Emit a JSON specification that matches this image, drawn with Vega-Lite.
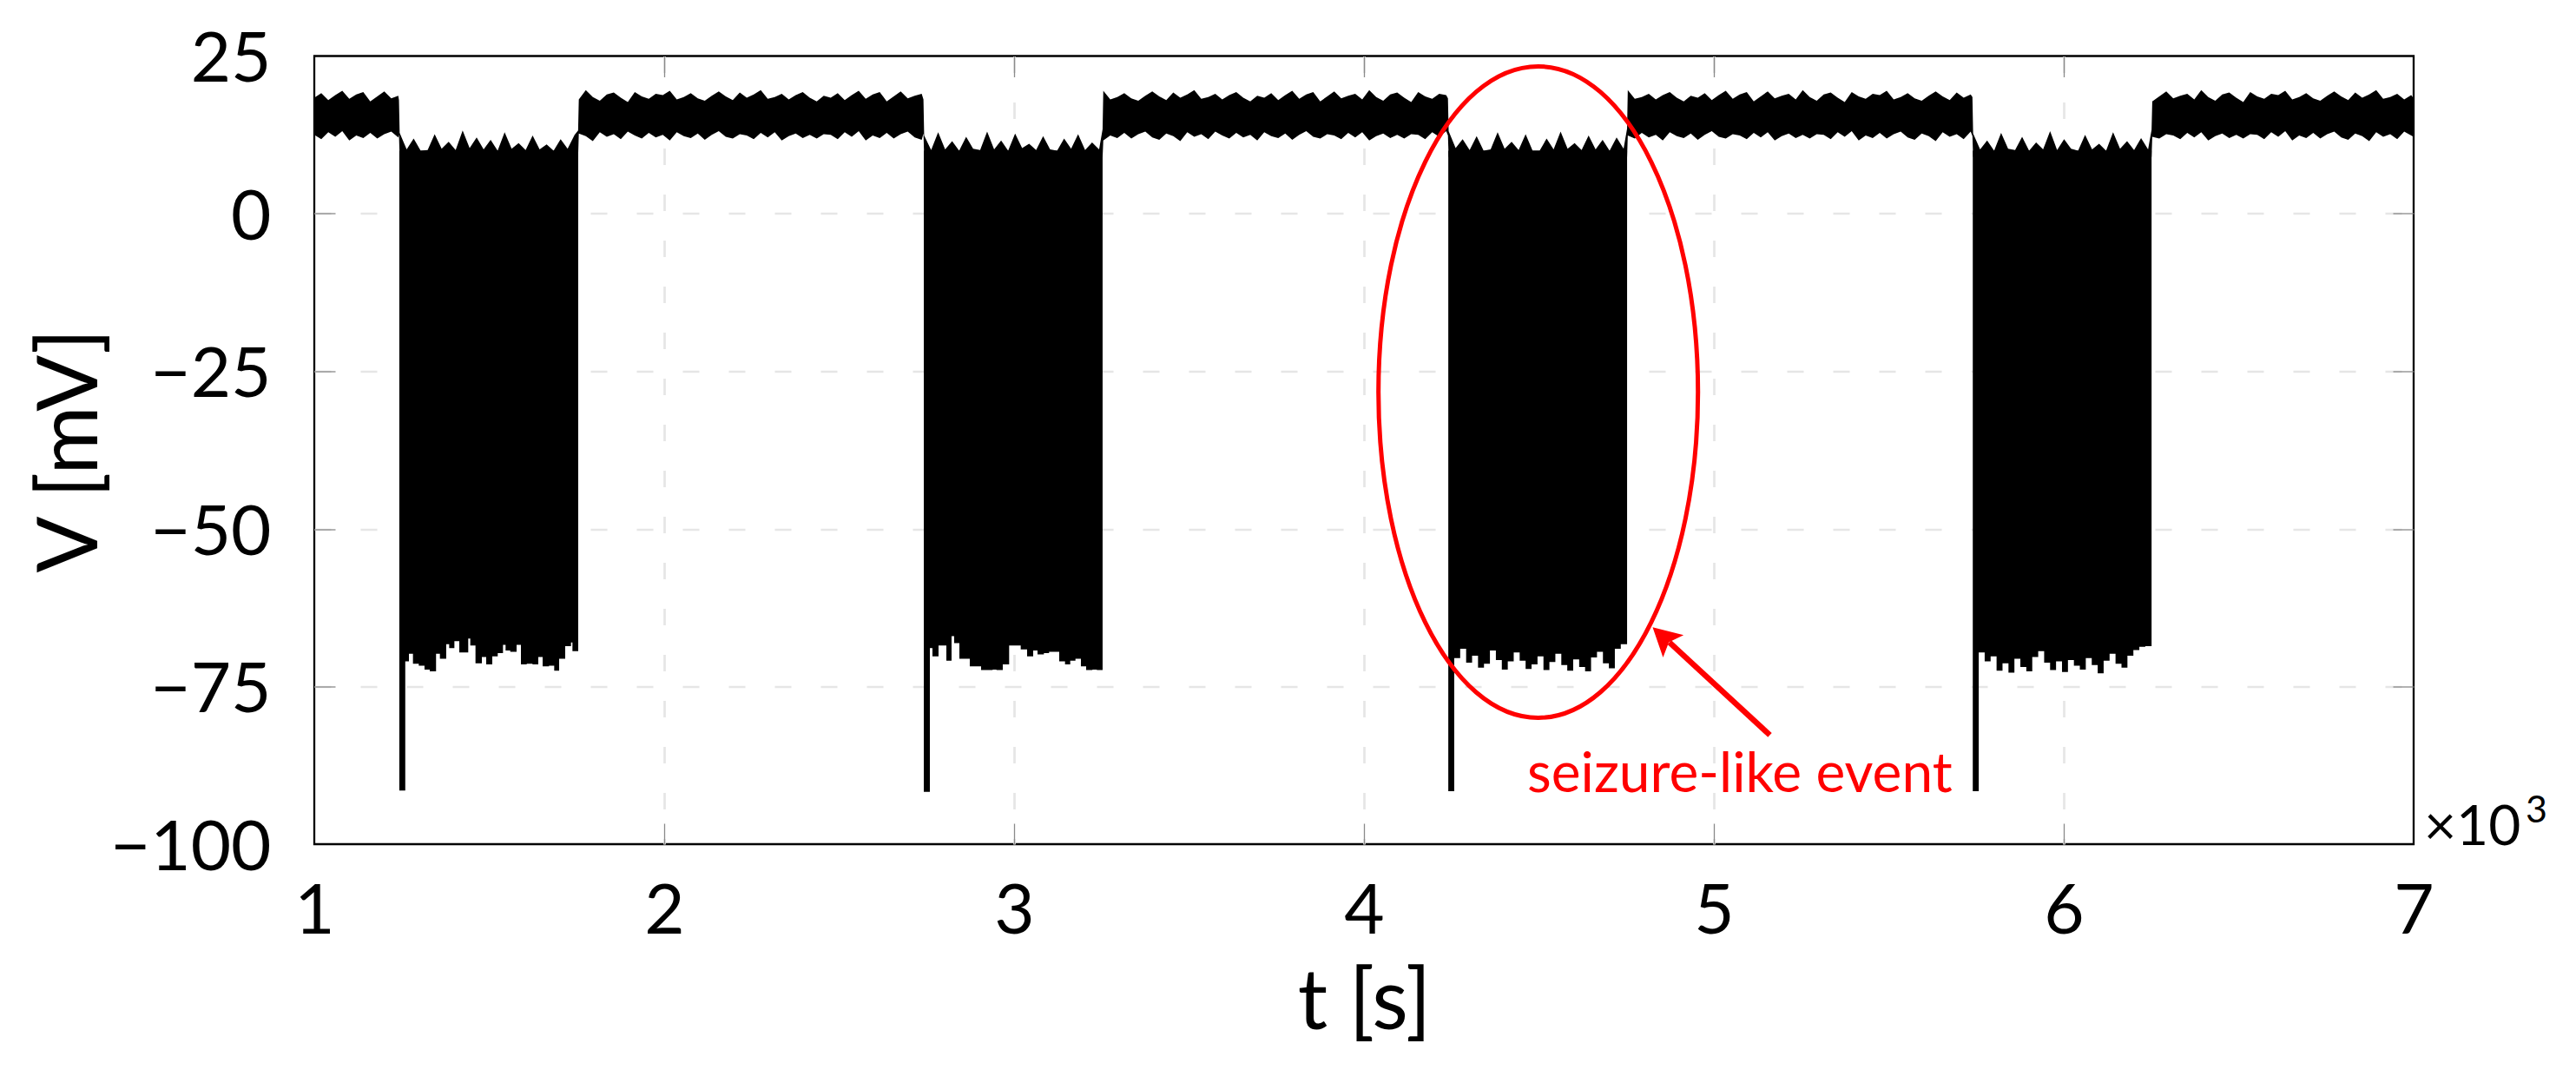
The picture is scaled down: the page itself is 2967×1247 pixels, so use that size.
{
"$schema":"https://vega.github.io/schema/vega-lite/v6.json",
"width":2418,"height":907.5,
"autosize":{"type":"none"},
"padding":{"left":362,"top":64.5,"right":187,"bottom":275},
"background":"white",
"config":{"view":{"stroke":"black","strokeWidth":2.3},"font":"Lato"},
"datasets":{
"up":[
{"t":1000,"lo":12.5,"hi":18.4},{"t":1020,"lo":11.8,"hi":19.1},{"t":1040,"lo":12.9,"hi":18.0},{"t":1060,"lo":12.2,"hi":18.8},{"t":1080,"lo":13.1,"hi":19.5},{"t":1100,"lo":11.6,"hi":18.2},{"t":1120,"lo":12.4,"hi":18.9},{"t":1140,"lo":12.0,"hi":19.3},{"t":1160,"lo":12.8,"hi":17.8},{"t":1180,"lo":11.9,"hi":18.6},{"t":1200,"lo":12.6,"hi":19.4},{"t":1220,"lo":13.0,"hi":18.3},{"t":1240,"lo":12.1,"hi":18.7},{"t":1242,"lo":12.5,"hi":18.0},
{"t":1244,"lo":9,"hi":12.8},{"t":1264,"lo":9,"hi":10.2},{"t":1284,"lo":9,"hi":11.9},{"t":1304,"lo":9,"hi":10.0},{"t":1324,"lo":9,"hi":10.1},{"t":1344,"lo":9,"hi":12.6},{"t":1364,"lo":9,"hi":10.3},{"t":1384,"lo":9,"hi":11.4},{"t":1404,"lo":9,"hi":10.1},{"t":1424,"lo":9,"hi":13.2},{"t":1444,"lo":9,"hi":10.4},{"t":1464,"lo":9,"hi":12.1},{"t":1484,"lo":9,"hi":10.2},{"t":1504,"lo":9,"hi":11.7},{"t":1524,"lo":9,"hi":10.0},{"t":1544,"lo":9,"hi":12.9},{"t":1564,"lo":9,"hi":10.3},{"t":1584,"lo":9,"hi":11.2},{"t":1604,"lo":9,"hi":10.1},{"t":1624,"lo":9,"hi":12.4},{"t":1644,"lo":9,"hi":10.2},{"t":1664,"lo":9,"hi":11.0},{"t":1684,"lo":9,"hi":10.0},{"t":1704,"lo":9,"hi":11.8},{"t":1724,"lo":9,"hi":10.3},{"t":1744,"lo":9,"hi":12.5},{"t":1754,"lo":9,"hi":13.2},
{"t":1756,"lo":12.7,"hi":18.1},{"t":1776,"lo":12.3,"hi":19.6},{"t":1796,"lo":11.5,"hi":18.5},{"t":1816,"lo":12.9,"hi":17.9},{"t":1836,"lo":12.2,"hi":18.9},{"t":1856,"lo":12.6,"hi":19.2},{"t":1876,"lo":11.8,"hi":18.4},{"t":1896,"lo":13.0,"hi":17.7},{"t":1916,"lo":12.4,"hi":19.3},{"t":1936,"lo":11.9,"hi":18.6},{"t":1956,"lo":12.8,"hi":18.2},{"t":1976,"lo":12.1,"hi":19.0},{"t":1996,"lo":12.5,"hi":18.8},{"t":2016,"lo":11.6,"hi":19.5},{"t":2036,"lo":12.9,"hi":18.1},{"t":2056,"lo":12.3,"hi":18.5},{"t":2076,"lo":12.0,"hi":19.1},{"t":2096,"lo":12.7,"hi":18.3},{"t":2116,"lo":11.7,"hi":17.9},{"t":2136,"lo":12.5,"hi":18.7},{"t":2156,"lo":13.1,"hi":19.4},{"t":2176,"lo":12.2,"hi":18.6},{"t":2196,"lo":11.9,"hi":18.0},{"t":2216,"lo":12.6,"hi":19.2},{"t":2236,"lo":12.4,"hi":18.4},{"t":2256,"lo":11.8,"hi":18.9},{"t":2276,"lo":12.8,"hi":19.6},{"t":2296,"lo":12.1,"hi":18.2},{"t":2316,"lo":12.9,"hi":18.5},{"t":2336,"lo":11.6,"hi":19.0},{"t":2356,"lo":12.3,"hi":18.1},{"t":2376,"lo":12.7,"hi":18.8},{"t":2396,"lo":12.0,"hi":19.3},{"t":2416,"lo":12.5,"hi":18.4},{"t":2436,"lo":11.9,"hi":17.8},{"t":2456,"lo":12.6,"hi":18.7},{"t":2476,"lo":12.5,"hi":18.4},{"t":2496,"lo":11.8,"hi":19.1},{"t":2516,"lo":12.9,"hi":18.0},{"t":2536,"lo":12.2,"hi":18.8},{"t":2556,"lo":13.1,"hi":19.5},{"t":2576,"lo":11.6,"hi":18.2},{"t":2596,"lo":12.4,"hi":18.9},{"t":2616,"lo":12.0,"hi":19.3},{"t":2636,"lo":12.8,"hi":17.8},{"t":2656,"lo":11.9,"hi":18.6},{"t":2676,"lo":12.6,"hi":19.4},{"t":2696,"lo":13.0,"hi":18.3},{"t":2716,"lo":12.1,"hi":18.7},{"t":2736,"lo":11.7,"hi":19.0},{"t":2741,"lo":12.7,"hi":18.1},
{"t":2743,"lo":9,"hi":12.4},{"t":2763,"lo":9,"hi":10.1},{"t":2783,"lo":9,"hi":12.9},{"t":2803,"lo":9,"hi":10.2},{"t":2823,"lo":9,"hi":11.5},{"t":2843,"lo":9,"hi":10.0},{"t":2863,"lo":9,"hi":12.2},{"t":2883,"lo":9,"hi":10.3},{"t":2903,"lo":9,"hi":10.1},{"t":2923,"lo":9,"hi":13.0},{"t":2943,"lo":9,"hi":10.2},{"t":2963,"lo":9,"hi":11.6},{"t":2983,"lo":9,"hi":10.0},{"t":3003,"lo":9,"hi":12.7},{"t":3023,"lo":9,"hi":10.4},{"t":3043,"lo":9,"hi":11.1},{"t":3063,"lo":9,"hi":10.1},{"t":3083,"lo":9,"hi":12.3},{"t":3103,"lo":9,"hi":10.2},{"t":3123,"lo":9,"hi":10.0},{"t":3143,"lo":9,"hi":11.9},{"t":3163,"lo":9,"hi":10.3},{"t":3183,"lo":9,"hi":12.6},{"t":3203,"lo":9,"hi":10.1},{"t":3223,"lo":9,"hi":11.3},{"t":3243,"lo":9,"hi":10.2},{"t":3253,"lo":9,"hi":13.4},
{"t":3255,"lo":11.6,"hi":19.5},{"t":3275,"lo":12.4,"hi":18.1},{"t":3295,"lo":12.0,"hi":18.5},{"t":3315,"lo":12.8,"hi":19.1},{"t":3335,"lo":11.9,"hi":18.3},{"t":3355,"lo":12.6,"hi":17.9},{"t":3375,"lo":13.0,"hi":18.7},{"t":3395,"lo":12.1,"hi":19.4},{"t":3415,"lo":11.7,"hi":18.6},{"t":3435,"lo":12.7,"hi":18.0},{"t":3455,"lo":12.3,"hi":19.2},{"t":3475,"lo":11.5,"hi":18.4},{"t":3495,"lo":12.9,"hi":18.9},{"t":3515,"lo":12.2,"hi":19.6},{"t":3535,"lo":12.6,"hi":18.2},{"t":3555,"lo":11.8,"hi":18.5},{"t":3575,"lo":13.0,"hi":19.0},{"t":3595,"lo":12.4,"hi":18.1},{"t":3615,"lo":11.9,"hi":18.8},{"t":3635,"lo":12.8,"hi":19.3},{"t":3655,"lo":12.1,"hi":18.4},{"t":3675,"lo":12.5,"hi":17.8},{"t":3695,"lo":11.6,"hi":18.7},{"t":3715,"lo":12.9,"hi":18.4},{"t":3735,"lo":12.3,"hi":19.1},{"t":3755,"lo":12.0,"hi":18.0},{"t":3775,"lo":12.7,"hi":18.8},{"t":3795,"lo":11.7,"hi":19.5},{"t":3815,"lo":12.5,"hi":18.2},{"t":3835,"lo":13.1,"hi":18.9},{"t":3855,"lo":12.2,"hi":19.3},{"t":3875,"lo":11.9,"hi":17.8},{"t":3895,"lo":12.6,"hi":18.6},{"t":3915,"lo":12.4,"hi":19.4},{"t":3935,"lo":11.8,"hi":18.3},{"t":3955,"lo":12.8,"hi":18.7},{"t":3975,"lo":12.1,"hi":19.0},{"t":3995,"lo":12.9,"hi":18.1},{"t":4015,"lo":11.6,"hi":19.6},{"t":4035,"lo":12.3,"hi":18.5},{"t":4055,"lo":12.7,"hi":17.9},{"t":4075,"lo":12.0,"hi":18.9},{"t":4095,"lo":12.5,"hi":19.2},{"t":4115,"lo":11.9,"hi":18.4},{"t":4135,"lo":12.6,"hi":17.7},{"t":4155,"lo":12.5,"hi":19.3},{"t":4175,"lo":11.8,"hi":18.6},{"t":4195,"lo":12.9,"hi":18.2},{"t":4215,"lo":12.2,"hi":19.0},{"t":4235,"lo":13.1,"hi":18.8},{"t":4240,"lo":12.4,"hi":18.3},
{"t":4242,"lo":9,"hi":13.1},{"t":4262,"lo":9,"hi":10.4},{"t":4282,"lo":9,"hi":11.8},{"t":4302,"lo":9,"hi":10.1},{"t":4322,"lo":9,"hi":12.3},{"t":4342,"lo":9,"hi":10.0},{"t":4362,"lo":9,"hi":10.2},{"t":4382,"lo":9,"hi":12.9},{"t":4402,"lo":9,"hi":10.3},{"t":4422,"lo":9,"hi":11.4},{"t":4442,"lo":9,"hi":10.1},{"t":4462,"lo":9,"hi":12.6},{"t":4482,"lo":9,"hi":10.0},{"t":4502,"lo":9,"hi":10.0},{"t":4522,"lo":9,"hi":11.9},{"t":4542,"lo":9,"hi":10.2},{"t":4562,"lo":9,"hi":13.0},{"t":4582,"lo":9,"hi":10.3},{"t":4602,"lo":9,"hi":11.2},{"t":4622,"lo":9,"hi":10.1},{"t":4642,"lo":9,"hi":12.4},{"t":4662,"lo":9,"hi":10.2},{"t":4682,"lo":9,"hi":11.7},{"t":4702,"lo":9,"hi":10.0},{"t":4722,"lo":9,"hi":12.1},{"t":4742,"lo":9,"hi":10.3},{"t":4752,"lo":9,"hi":13.5},
{"t":4754,"lo":12.4,"hi":19.6},{"t":4774,"lo":11.9,"hi":18.2},{"t":4794,"lo":12.8,"hi":18.5},{"t":4814,"lo":12.1,"hi":19.0},{"t":4834,"lo":12.5,"hi":18.1},{"t":4854,"lo":11.6,"hi":18.8},{"t":4874,"lo":12.9,"hi":19.3},{"t":4894,"lo":12.3,"hi":18.4},{"t":4914,"lo":12.0,"hi":17.8},{"t":4934,"lo":12.7,"hi":18.7},{"t":4954,"lo":11.7,"hi":18.4},{"t":4974,"lo":12.5,"hi":19.1},{"t":4994,"lo":13.1,"hi":18.0},{"t":5014,"lo":12.2,"hi":18.8},{"t":5034,"lo":11.9,"hi":19.5},{"t":5054,"lo":12.6,"hi":18.2},{"t":5074,"lo":12.4,"hi":18.9},{"t":5094,"lo":11.8,"hi":19.3},{"t":5114,"lo":12.8,"hi":17.8},{"t":5134,"lo":12.1,"hi":18.6},{"t":5154,"lo":12.9,"hi":19.4},{"t":5174,"lo":11.6,"hi":18.3},{"t":5194,"lo":12.3,"hi":18.7},{"t":5214,"lo":12.7,"hi":19.0},{"t":5234,"lo":12.0,"hi":18.1},{"t":5254,"lo":12.5,"hi":19.6},{"t":5274,"lo":11.9,"hi":18.5},{"t":5294,"lo":12.6,"hi":17.9},{"t":5314,"lo":12.5,"hi":18.9},{"t":5334,"lo":11.8,"hi":19.2},{"t":5354,"lo":12.9,"hi":18.4},{"t":5374,"lo":12.2,"hi":17.7},{"t":5394,"lo":13.1,"hi":19.3},{"t":5414,"lo":11.6,"hi":18.6},{"t":5434,"lo":12.4,"hi":18.2},{"t":5454,"lo":12.0,"hi":19.0},{"t":5474,"lo":12.8,"hi":18.8},{"t":5494,"lo":11.9,"hi":19.5},{"t":5514,"lo":12.6,"hi":18.1},{"t":5534,"lo":13.0,"hi":18.5},{"t":5554,"lo":12.1,"hi":19.1},{"t":5574,"lo":11.7,"hi":18.3},{"t":5594,"lo":12.7,"hi":17.9},{"t":5614,"lo":12.3,"hi":18.7},{"t":5634,"lo":11.5,"hi":19.4},{"t":5654,"lo":12.9,"hi":18.6},{"t":5674,"lo":12.2,"hi":18.0},{"t":5694,"lo":12.6,"hi":19.2},{"t":5714,"lo":11.8,"hi":18.4},{"t":5734,"lo":13.0,"hi":18.9},{"t":5739,"lo":12.3,"hi":18.5},
{"t":5741,"lo":9,"hi":12.7},{"t":5761,"lo":9,"hi":10.2},{"t":5781,"lo":9,"hi":11.6},{"t":5801,"lo":9,"hi":10.0},{"t":5821,"lo":9,"hi":12.8},{"t":5841,"lo":9,"hi":10.3},{"t":5861,"lo":9,"hi":10.1},{"t":5881,"lo":9,"hi":12.2},{"t":5901,"lo":9,"hi":10.0},{"t":5921,"lo":9,"hi":11.3},{"t":5941,"lo":9,"hi":10.2},{"t":5961,"lo":9,"hi":13.1},{"t":5981,"lo":9,"hi":10.1},{"t":6001,"lo":9,"hi":11.8},{"t":6021,"lo":9,"hi":10.3},{"t":6041,"lo":9,"hi":10.0},{"t":6061,"lo":9,"hi":12.5},{"t":6081,"lo":9,"hi":10.2},{"t":6101,"lo":9,"hi":11.1},{"t":6121,"lo":9,"hi":10.0},{"t":6141,"lo":9,"hi":12.9},{"t":6161,"lo":9,"hi":10.3},{"t":6181,"lo":9,"hi":11.5},{"t":6201,"lo":9,"hi":10.1},{"t":6221,"lo":9,"hi":12.0},{"t":6241,"lo":9,"hi":10.2},{"t":6251,"lo":9,"hi":13.3},
{"t":6253,"lo":12.2,"hi":17.8},{"t":6273,"lo":11.9,"hi":18.6},{"t":6293,"lo":12.6,"hi":19.4},{"t":6313,"lo":12.4,"hi":18.3},{"t":6333,"lo":11.8,"hi":18.7},{"t":6353,"lo":12.8,"hi":19.0},{"t":6373,"lo":12.1,"hi":18.1},{"t":6393,"lo":12.9,"hi":19.6},{"t":6413,"lo":11.6,"hi":18.5},{"t":6433,"lo":12.3,"hi":17.9},{"t":6453,"lo":12.7,"hi":18.9},{"t":6473,"lo":12.0,"hi":19.2},{"t":6493,"lo":12.5,"hi":18.4},{"t":6513,"lo":11.9,"hi":17.7},{"t":6533,"lo":12.6,"hi":19.3},{"t":6553,"lo":12.5,"hi":18.6},{"t":6573,"lo":11.8,"hi":18.2},{"t":6593,"lo":12.9,"hi":19.0},{"t":6613,"lo":12.2,"hi":18.8},{"t":6633,"lo":13.1,"hi":19.5},{"t":6653,"lo":11.6,"hi":18.1},{"t":6673,"lo":12.4,"hi":18.5},{"t":6693,"lo":12.0,"hi":19.1},{"t":6713,"lo":12.8,"hi":18.3},{"t":6733,"lo":11.9,"hi":17.9},{"t":6753,"lo":12.6,"hi":18.7},{"t":6773,"lo":13.0,"hi":19.4},{"t":6793,"lo":12.1,"hi":18.6},{"t":6813,"lo":11.7,"hi":18.0},{"t":6833,"lo":12.7,"hi":19.2},{"t":6853,"lo":12.3,"hi":18.4},{"t":6873,"lo":11.5,"hi":18.9},{"t":6893,"lo":12.9,"hi":19.6},{"t":6913,"lo":12.2,"hi":18.2},{"t":6933,"lo":12.6,"hi":18.5},{"t":6953,"lo":11.8,"hi":19.0},{"t":6973,"lo":13.0,"hi":18.1},{"t":6993,"lo":12.4,"hi":18.8},{"t":7000,"lo":12.2,"hi":18.3}
],
"ev":[
{"e":1,"t":1243,"lo":-91.5},{"e":1,"t":1260,"lo":-71.0},{"e":1,"t":1270.5,"lo":-69.8},{"e":1,"t":1282,"lo":-71.4},{"e":1,"t":1298.6,"lo":-71.7},{"e":1,"t":1315,"lo":-72.3},{"e":1,"t":1330,"lo":-72.6},{"e":1,"t":1348,"lo":-69.8},{"e":1,"t":1359,"lo":-70.6},{"e":1,"t":1377,"lo":-68.3},{"e":1,"t":1385.5,"lo":-68.9},{"e":1,"t":1400.4,"lo":-67.8},{"e":1,"t":1414.4,"lo":-69.6},{"e":1,"t":1440,"lo":-67.4},{"e":1,"t":1445.8,"lo":-68.5},{"e":1,"t":1460.7,"lo":-71.3},{"e":1,"t":1478.9,"lo":-70.3},{"e":1,"t":1491.3,"lo":-71.5},{"e":1,"t":1508.7,"lo":-70.2},{"e":1,"t":1524.3,"lo":-69.7},{"e":1,"t":1539.3,"lo":-68.4},{"e":1,"t":1546.7,"lo":-69.3},{"e":1,"t":1560,"lo":-69.5},{"e":1,"t":1578.2,"lo":-68.4},{"e":1,"t":1590.6,"lo":-71.5},{"e":1,"t":1607.1,"lo":-71.4},{"e":1,"t":1623.7,"lo":-71.5},{"e":1,"t":1640.2,"lo":-70.3},{"e":1,"t":1652.6,"lo":-71.8},{"e":1,"t":1670.8,"lo":-71.7},{"e":1,"t":1685.7,"lo":-72.5},{"e":1,"t":1699.8,"lo":-70.6},{"e":1,"t":1717.1,"lo":-68.6},{"e":1,"t":1733.7,"lo":-68.0},{"e":1,"t":1737.8,"lo":-69.4},{"e":1,"t":1754.3,"lo":-69.4},
{"e":2,"t":2742,"lo":-91.7},{"e":2,"t":2759.3,"lo":-68.9},{"e":2,"t":2766.7,"lo":-70.2},{"e":2,"t":2784.1,"lo":-68.5},{"e":2,"t":2806.5,"lo":-70.9},{"e":2,"t":2821.3,"lo":-67.0},{"e":2,"t":2828.8,"lo":-68.1},{"e":2,"t":2843.7,"lo":-70.6},{"e":2,"t":2873.4,"lo":-71.8},{"e":2,"t":2905.7,"lo":-72.4},{"e":2,"t":2938.8,"lo":-72.3},{"e":2,"t":2949.6,"lo":-72.4},{"e":2,"t":2967.7,"lo":-71.5},{"e":2,"t":2985.9,"lo":-68.5},{"e":2,"t":3019,"lo":-69.1},{"e":2,"t":3037.2,"lo":-70.2},{"e":2,"t":3054.6,"lo":-69.3},{"e":2,"t":3067,"lo":-69.9},{"e":2,"t":3085.2,"lo":-69.7},{"e":2,"t":3100,"lo":-69.5},{"e":2,"t":3129,"lo":-71.0},{"e":2,"t":3145.6,"lo":-71.5},{"e":2,"t":3160.5,"lo":-70.9},{"e":2,"t":3175.4,"lo":-70.6},{"e":2,"t":3191,"lo":-71.8},{"e":2,"t":3206,"lo":-72.4},{"e":2,"t":3224,"lo":-72.3},{"e":2,"t":3236.5,"lo":-72.4},{"e":2,"t":3253,"lo":-72.4},
{"e":3,"t":4241,"lo":-91.6},{"e":3,"t":4258,"lo":-70.5},{"e":3,"t":4275,"lo":-69.0},{"e":3,"t":4292,"lo":-71.2},{"e":3,"t":4309,"lo":-70.1},{"e":3,"t":4326,"lo":-72.0},{"e":3,"t":4343,"lo":-71.4},{"e":3,"t":4360,"lo":-69.3},{"e":3,"t":4377,"lo":-70.8},{"e":3,"t":4394,"lo":-72.3},{"e":3,"t":4411,"lo":-71.0},{"e":3,"t":4428,"lo":-69.6},{"e":3,"t":4445,"lo":-70.9},{"e":3,"t":4462,"lo":-72.2},{"e":3,"t":4479,"lo":-71.5},{"e":3,"t":4496,"lo":-70.2},{"e":3,"t":4513,"lo":-72.4},{"e":3,"t":4530,"lo":-71.1},{"e":3,"t":4547,"lo":-69.8},{"e":3,"t":4564,"lo":-71.6},{"e":3,"t":4581,"lo":-72.5},{"e":3,"t":4598,"lo":-70.7},{"e":3,"t":4615,"lo":-71.9},{"e":3,"t":4632,"lo":-72.6},{"e":3,"t":4649,"lo":-70.4},{"e":3,"t":4666,"lo":-69.5},{"e":3,"t":4683,"lo":-71.3},{"e":3,"t":4700,"lo":-72.1},{"e":3,"t":4717,"lo":-69.0},{"e":3,"t":4734,"lo":-68.3},{"e":3,"t":4752,"lo":-68.3},
{"e":4,"t":5740,"lo":-91.6},{"e":4,"t":5757,"lo":-69.6},{"e":4,"t":5774,"lo":-71.0},{"e":4,"t":5791,"lo":-70.2},{"e":4,"t":5808,"lo":-72.5},{"e":4,"t":5825,"lo":-71.3},{"e":4,"t":5842,"lo":-72.8},{"e":4,"t":5859,"lo":-70.6},{"e":4,"t":5876,"lo":-71.9},{"e":4,"t":5893,"lo":-72.6},{"e":4,"t":5910,"lo":-70.3},{"e":4,"t":5927,"lo":-69.4},{"e":4,"t":5944,"lo":-71.2},{"e":4,"t":5961,"lo":-72.4},{"e":4,"t":5978,"lo":-71.0},{"e":4,"t":5995,"lo":-72.7},{"e":4,"t":6012,"lo":-70.8},{"e":4,"t":6029,"lo":-71.7},{"e":4,"t":6046,"lo":-72.3},{"e":4,"t":6063,"lo":-70.5},{"e":4,"t":6080,"lo":-71.6},{"e":4,"t":6097,"lo":-72.9},{"e":4,"t":6114,"lo":-70.9},{"e":4,"t":6131,"lo":-69.8},{"e":4,"t":6148,"lo":-71.4},{"e":4,"t":6165,"lo":-72.0},{"e":4,"t":6182,"lo":-70.1},{"e":4,"t":6199,"lo":-69.2},{"e":4,"t":6216,"lo":-68.7},{"e":4,"t":6233,"lo":-68.6},{"e":4,"t":6251,"lo":-68.6}
]
},
"layer":[
{"data":{"name":"up"},
 "mark":{"type":"area","color":"black","interpolate":"linear","opacity":1},
 "encoding":{
  "x":{"field":"t","type":"quantitative","scale":{"domain":[1000,7000],"nice":false,"zero":false},
   "axis":{"orient":"bottom","values":[1000,2000,3000,4000,5000,6000,7000],"labelExpr":"format(datum.value/1000,'d')","domain":false,"grid":true,"gridColor":"#e6e6e6","gridWidth":2.7,"gridDash":[19,34],"gridOpacity":{"condition":{"test":"datum.value == 1000 || datum.value == 7000","value":0},"value":1},"ticks":true,"tickSize":-24,"tickColor":"#8a8a8a","tickWidth":1.3,"tickOpacity":{"condition":{"test":"datum.value == 1000 || datum.value == 7000","value":0},"value":1},"labelFont":"Lato","labelFontSize":80,"labelColor":"black","labelBaseline":"top","labelPadding":63,"labelFlush":false,"labelOverlap":false,"labelBound":false,"labelLimit":0,"title":"t [s]","titleFont":"Lato","titleFontSize":96,"titleFontWeight":"normal","titleColor":"black","titleX":1209,"titleY":212,"titleAlign":"center","titleBaseline":"alphabetic"}},
  "y":{"field":"lo","type":"quantitative","scale":{"domain":[-100,25],"nice":false,"zero":false},
   "axis":{"orient":"left","values":[-100,-75,-50,-25,0,25],"domain":false,"grid":true,"gridColor":"#e6e6e6","gridWidth":2.7,"gridDash":[19,34],"gridOpacity":{"condition":{"test":"datum.value == 25 || datum.value == -100","value":0},"value":1},"ticks":true,"tickSize":-24,"tickColor":"#8a8a8a","tickWidth":1.3,"tickOpacity":{"condition":{"test":"datum.value == 25 || datum.value == -100","value":0},"value":1},"labelFont":"Lato","labelFontSize":80,"labelColor":"black","labelBaseline":"middle","labelOffset":5,"labelPadding":74,"labelFlush":false,"labelOverlap":false,"labelBound":false,"labelLimit":0,"title":"V [mV]","titleFont":"Lato","titleFontSize":96,"titleFontWeight":"normal","titleColor":"black","titleX":-251,"titleY":454,"titleAngle":-90,"titleAlign":"center","titleBaseline":"alphabetic"}},
  "y2":{"field":"hi"}
 }},
{"data":{"name":"ev"},
 "mark":{"type":"area","color":"black","interpolate":"step-after","opacity":1},
 "encoding":{
  "x":{"field":"t","type":"quantitative","scale":{"domain":[1000,7000],"nice":false,"zero":false},
   "axis":{"orient":"top","values":[2000,3000,4000,5000,6000],"labels":false,"domain":false,"grid":false,"ticks":true,"tickSize":-24,"tickColor":"#8a8a8a","tickWidth":1.3,"title":null}},
  "y":{"field":"lo","type":"quantitative","scale":{"domain":[-100,25],"nice":false,"zero":false},
   "axis":{"orient":"right","values":[-75,-50,-25,0],"labels":false,"domain":false,"grid":false,"ticks":true,"tickSize":-24,"tickColor":"#8a8a8a","tickWidth":1.3,"title":null}},
  "y2":{"datum":10},
  "detail":{"field":"e"}
 }},
{"data":{"values":[{"t":4498,"v":-28.3}]},
 "mark":{"type":"point","shape":"M 0 -1 C 0.271 -1 0.4907 -0.5523 0.4907 0 C 0.4907 0.5523 0.271 1 0 1 C -0.271 1 -0.4907 0.5523 -0.4907 0 C -0.4907 -0.5523 -0.271 -1 0 -1 Z","size":562500,"filled":false,"color":"#ff0000","strokeWidth":5,"opacity":1},
 "encoding":{
  "x":{"field":"t","type":"quantitative","scale":{"domain":[1000,7000],"nice":false,"zero":false},"axis":null},
  "y":{"field":"v","type":"quantitative","scale":{"domain":[-100,25],"nice":false,"zero":false},"axis":null}
 }},
{"data":{"values":[{"t":5160,"v":-82.7,"t2":4873,"v2":-68.0}]},
 "mark":{"type":"rule","color":"#ff0000","strokeWidth":6.5,"strokeCap":"butt"},
 "encoding":{
  "x":{"field":"t","type":"quantitative","scale":{"domain":[1000,7000],"nice":false,"zero":false},"axis":null},
  "y":{"field":"v","type":"quantitative","scale":{"domain":[-100,25],"nice":false,"zero":false},"axis":null},
  "x2":{"field":"t2"},"y2":{"field":"v2"}
 }},
{"data":{"values":[{"t":4825,"v":-65.6}]},
 "mark":{"type":"point","shape":"M 0 0 L -1 1.85 L 0 1.45 L 1 1.85 Z","size":1225,"filled":true,"color":"#ff0000","angle":312.6,"opacity":1,"strokeWidth":0},
 "encoding":{
  "x":{"field":"t","type":"quantitative","scale":{"domain":[1000,7000],"nice":false,"zero":false},"axis":null},
  "y":{"field":"v","type":"quantitative","scale":{"domain":[-100,25],"nice":false,"zero":false},"axis":null}
 }},
{"data":{"values":[{"t":5074,"v":-91.75,"label":"seizure-like event"}]},
 "mark":{"type":"text","font":"Lato","fontSize":64,"color":"#ff0000","align":"center","baseline":"alphabetic"},
 "encoding":{
  "x":{"field":"t","type":"quantitative","scale":{"domain":[1000,7000],"nice":false,"zero":false},"axis":null},
  "y":{"field":"v","type":"quantitative","scale":{"domain":[-100,25],"nice":false,"zero":false},"axis":null},
  "text":{"field":"label"}
 }},
{"data":{"values":[{"t":7000,"v":-100,"label":"×10"}]},
 "mark":{"type":"text","font":"Lato","fontSize":64,"color":"black","align":"left","baseline":"alphabetic","dx":12,"dy":1},
 "encoding":{
  "x":{"field":"t","type":"quantitative","scale":{"domain":[1000,7000],"nice":false,"zero":false},"axis":null},
  "y":{"field":"v","type":"quantitative","scale":{"domain":[-100,25],"nice":false,"zero":false},"axis":null},
  "text":{"field":"label"}
 }},
{"data":{"values":[{"t":7000,"v":-100,"label":"3"}]},
 "mark":{"type":"text","font":"Lato","fontSize":43,"color":"black","align":"left","baseline":"alphabetic","dx":129,"dy":-25},
 "encoding":{
  "x":{"field":"t","type":"quantitative","scale":{"domain":[1000,7000],"nice":false,"zero":false},"axis":null},
  "y":{"field":"v","type":"quantitative","scale":{"domain":[-100,25],"nice":false,"zero":false},"axis":null},
  "text":{"field":"label"}
 }}
],
"resolve":{"axis":{"x":"independent","y":"independent"}}
}
